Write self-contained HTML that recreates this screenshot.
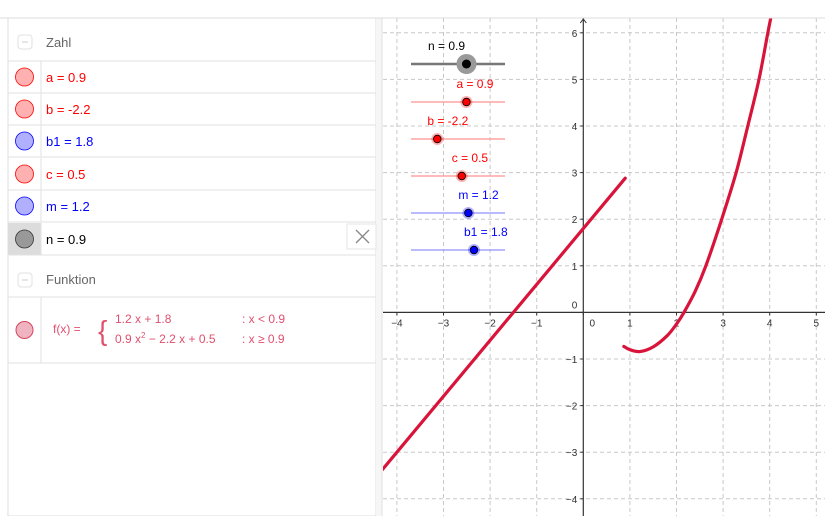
<!DOCTYPE html>
<html><head><meta charset="utf-8">
<style>
body{margin:0;width:825px;height:516px;overflow:hidden;background:#fff;font-family:"Liberation Sans",sans-serif;}
svg{position:absolute;left:0;top:0}
text{font-family:"Liberation Sans",sans-serif}
</style></head>
<body>
<svg id="s" width="825" height="516" xmlns="http://www.w3.org/2000/svg">
  <g>
    <rect x="8" y="18" width="368" height="498" fill="#fff" stroke="#dcdcdc"/>
    <rect x="376" y="18" width="6" height="498" fill="#f6f6f6"/>
    <line x1="382" y1="18" x2="382" y2="516" stroke="#e0e0e0"/>
    <g>
      <rect x="18" y="35" width="14" height="14" rx="3" fill="#fff" stroke="#e0e0e0"/>
      <line x1="22" y1="42" x2="28" y2="42" stroke="#ccc"/>
      <text x="46" y="47" font-size="13" fill="#666">Zahl</text>
    </g>
    <line x1="8" y1="61" x2="376" y2="61" stroke="#e2e2e2"/>
    <g id="rows"></g>
    <g>
      <rect x="18" y="273" width="14" height="14" rx="3" fill="#fff" stroke="#e0e0e0"/>
      <line x1="22" y1="280" x2="28" y2="280" stroke="#ccc"/>
      <text x="46" y="284" font-size="13" fill="#666">Funktion</text>
    </g>
    <line x1="8" y1="297" x2="376" y2="297" stroke="#e2e2e2"/>
    <line x1="41" y1="297" x2="41" y2="363" stroke="#e2e2e2"/>
    <line x1="8" y1="363" x2="376" y2="363" stroke="#e2e2e2"/>
    <circle cx="24.5" cy="330" r="8.5" fill="#f0b4c0" stroke="#d6455e"/>
    <g fill="#e0506e" font-size="12">
      <text x="53" y="333">f(x) =</text>
      <text x="98" y="340" font-size="28" font-weight="100">{</text>
      <text x="115" y="323">1.2 x + 1.8</text>
      <text x="242" y="323">: x &lt; 0.9</text>
      <text x="115" y="343">0.9 x<tspan font-size="8" dy="-5">2</tspan><tspan dy="5"> − 2.2 x + 0.5</tspan></text>
      <text x="242" y="343">: x ≥ 0.9</text>
    </g>
    <g>
      <rect x="347" y="224" width="29" height="25" fill="#fff" stroke="#e6e6e6"/>
      <line x1="356" y1="230" x2="369" y2="243" stroke="#888" stroke-width="1.3"/>
      <line x1="369" y1="230" x2="356" y2="243" stroke="#888" stroke-width="1.3"/>
    </g>
  </g>
  <g id="graph"></g>
  <line x1="0" y1="18" x2="825" y2="18" stroke="#dcdcdc"/>
</svg>
<script>
const NS='http://www.w3.org/2000/svg';
function mk(tag,attrs,parent,txt){const e=document.createElementNS(NS,tag);for(const k in attrs)e.setAttribute(k,attrs[k]);if(txt!==undefined)e.textContent=txt;parent.appendChild(e);return e;}

const rowLabels=['a = 0.9','b = -2.2','b1 = 1.8','c = 0.5','m = 1.2','n = 0.9'];
const rowColors=['#ff0000','#ff0000','#0000ff','#ff0000','#0000ff','#000000'];
const rowNames=['row-a','row-b','row-b1','row-c','row-m','row-n'];
const rows=document.getElementById('rows');
const rowTop=[61,93,125,158,190,223];
for(let i=0;i<rowLabels.length;i++){
  const g=mk('g',{},rows);
  
  
  const y=rowTop[i], h=32;
  if(i===5) mk('rect',{x:8.5,y:y,width:32,height:h,fill:'#dcdcdc'},g);
  mk('line',{x1:41,y1:y,x2:41,y2:y+h,stroke:'#e2e2e2'},g);
  mk('line',{x1:8,y1:y+h,x2:376,y2:y+h,stroke:'#e2e2e2'},g);
  const fill=i===5?'#999':(rowColors[i]==='#0000ff'?'#b0b0ff':'#ffb0b0');
  const c=mk('circle',{cx:24.5,cy:y+16,r:9,fill:fill,stroke:rowColors[i]==='#000000'?'#333':rowColors[i],'stroke-width':0.8},g);
  
  
  mk('text',{x:46,y:y+21,'font-size':13,fill:rowColors[i]},g,rowLabels[i]);
}

const X0=583.3, Y0=312.4, SX=46.6, SY=46.6;
const sx=v=>X0+v*SX, sy=v=>Y0-v*SY;
const xTicks=[-4,-3,-2,-1,0,1,2,3,4,5];
const yTicks=[-4,-3,-2,-1,0,1,2,3,4,5,6];
const lineX=[-4.35,0.9];
const lineY=[-3.42,2.88];
const curveX=[0.87,1.0,1.22,1.5,1.8,2.0,2.16,2.4,2.63,2.97,3.28,3.53,3.77,3.96,4.06];
const curveY=[-0.73,-0.8,-0.84,-0.74,-0.5,-0.25,0.0,0.45,1.0,2.0,3.0,4.0,5.0,6.0,6.5];
const sliderLabels=['n = 0.9','a = 0.9','b = -2.2','c = 0.5','m = 1.2','b1 = 1.8'];
const sliderPos=[0.59,0.59,0.28,0.54,0.61,0.67];

const G=document.getElementById('graph');
const clip=mk('clipPath',{id:'cp'},G);mk('rect',{x:383,y:18,width:442,height:498},clip);
const gg=mk('g',{'clip-path':'url(#cp)'},G);
for(const t of xTicks){
  if(t===0)continue;
  const l=mk('line',{x1:sx(t),y1:18,x2:sx(t),y2:516,stroke:'#c8c8c8','stroke-dasharray':'4,3'},gg);
  
}
for(const t of yTicks){
  if(t===0)continue;
  const l=mk('line',{x1:383,y1:sy(t),x2:825,y2:sy(t),stroke:'#c8c8c8','stroke-dasharray':'4,3'},gg);
  
}
const xa=mk('line',{x1:383,y1:Y0,x2:825,y2:Y0,stroke:'#333','stroke-width':1.2},gg);

const ya=mk('line',{x1:X0,y1:18,x2:X0,y2:516,stroke:'#333','stroke-width':1.2},gg);

mk('path',{d:`M${X0-3},${23} L${X0},${19} L${X0+3},${23}`,fill:'none',stroke:'#333'},gg);
for(const t of xTicks){
  mk('line',{x1:sx(t),y1:Y0,x2:sx(t),y2:Y0+3,stroke:'#333'},gg);
  const lab=t===0?'0':(t<0?'−'+(-t):String(t));
  const tx=mk('text',{x:t===0?sx(t)+9:sx(t),y:Y0+14,'font-size':10,fill:'#333','text-anchor':'middle'},gg,lab);
  
}
for(const t of yTicks){
  mk('line',{x1:X0-3,y1:sy(t),x2:X0,y2:sy(t),stroke:'#333'},gg);
  const lab=t<0?'−'+(-t):String(t);
  const ty=mk('text',{x:X0-6,y:t===0?sy(t)-4:sy(t)+4,'font-size':10,fill:'#333','text-anchor':'end'},gg,lab);
  
}
const lp=mk('path',{d:`M${sx(lineX[0])},${sy(lineY[0])} L${sx(lineX[1])},${sy(lineY[1])}`,stroke:'#d9143b','stroke-width':3.2,fill:'none','stroke-linecap':'round'},gg);

const P=curveX.map((x,i)=>[sx(x),sy(curveY[i])]);
let d=`M${P[0][0]},${P[0][1]}`;
for(let i=0;i<P.length-1;i++){
  const p0=P[Math.max(0,i-1)],p1=P[i],p2=P[i+1],p3=P[Math.min(P.length-1,i+2)];
  d+=` C${p1[0]+(p2[0]-p0[0])/6},${p1[1]+(p2[1]-p0[1])/6} ${p2[0]-(p3[0]-p1[0])/6},${p2[1]-(p3[1]-p1[1])/6} ${p2[0]},${p2[1]}`;
}
const cp=mk('path',{d:d,stroke:'#d9143b','stroke-width':3.2,fill:'none','stroke-linecap':'round'},gg);


const sColors=['#000','#ff0000','#ff0000','#ff0000','#0000ff','#0000ff'];
const sLine=['#777','#ff9090','#ff9090','#ff9090','#9090ff','#9090ff'];
const sNames=['slider-n','slider-a','slider-b','slider-c','slider-m','slider-b1'];
const sY=[64,102,139,176,213,250];
for(let i=0;i<sliderLabels.length;i++){
  const g=mk('g',{},G);
  
  
  const x1=411,x2=505,kx=x1+(x2-x1)*sliderPos[i],y=sY[i];
  mk('line',{x1:x1,y1:y,x2:x2,y2:y,stroke:sLine[i],'stroke-width':i===0?2.5:1.3},g);
  if(i===0){mk('circle',{cx:kx,cy:y,r:10,fill:'#999'},g);mk('circle',{cx:kx,cy:y,r:4.5,fill:'#000'},g);}
  else{mk('circle',{cx:kx,cy:y,r:6,fill:sColors[i],'fill-opacity':0.3},g);mk('circle',{cx:kx,cy:y,r:3.8,fill:sColors[i],stroke:'#000','stroke-width':0.8},g);}
  mk('text',{x:i===0?428:kx-10,y:y-14,'font-size':12,fill:sColors[i]},g,sliderLabels[i]);
}
</script>
</body></html>
